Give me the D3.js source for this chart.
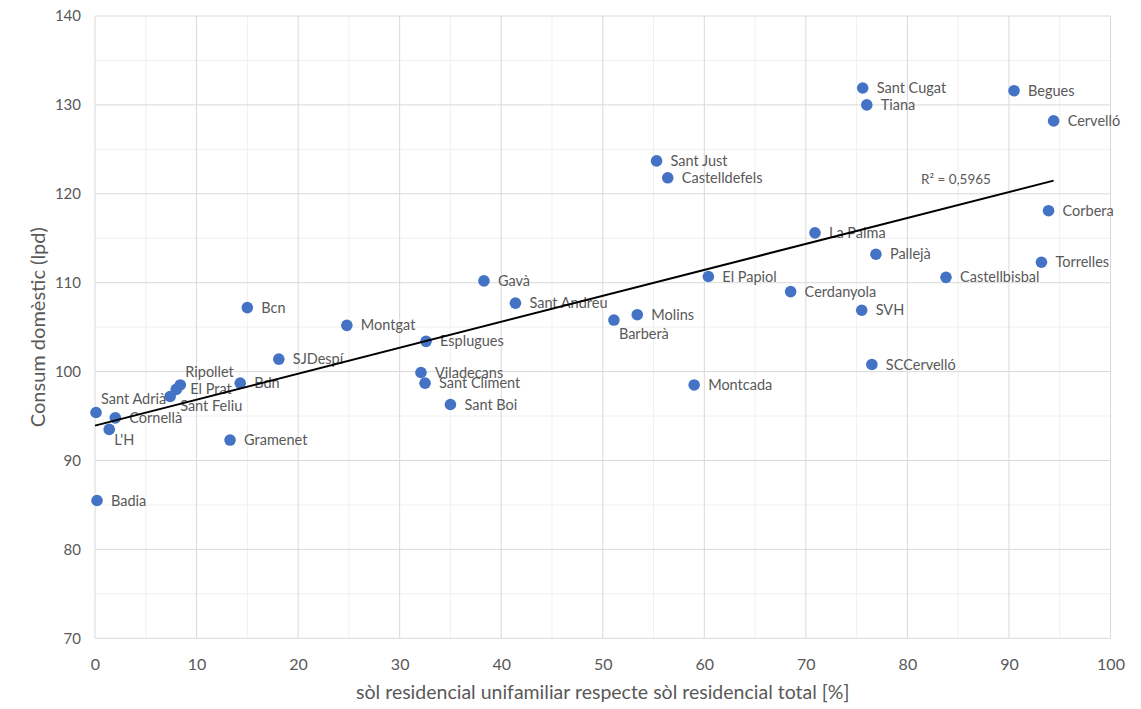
<!DOCTYPE html>
<html>
<head>
<meta charset="utf-8">
<script src="https://cdn.jsdelivr.net/npm/d3@7/dist/d3.min.js"></script>
<style>
  html, body { margin: 0; padding: 0; background: #fff; }
  svg { display: block; font-family: Lato, "Open Sans", sans-serif; }
</style>
</head>
<body>
<svg id="chart" width="1141" height="709"></svg>
<script>
// Municipalities: share of single-family residential land vs. domestic water use
const municipis = ["Sant Adrià", "Cornellà", "L'H", "Badia", "Sant Feliu", "El Prat", "Ripollet",
  "Bdn", "Gramenet", "SJDespí", "Bcn", "Montgat", "Esplugues", "Viladecans", "Sant Climent",
  "Sant Boi", "Gavà", "Sant Andreu", "Barberà", "Molins", "Montcada", "El Papiol", "Sant Just",
  "Castelldefels", "Cerdanyola", "La Palma", "SVH", "SCCervelló", "Pallejà", "Sant Cugat",
  "Tiana", "Begues", "Cervelló", "Corbera", "Torrelles", "Castellbisbal"];
const solUnifamiliar = [0.1, 2.0, 1.4, 0.2, 7.4, 8.0, 8.4,
  14.3, 13.3, 18.1, 15.0, 24.8, 32.6, 32.1, 32.5,
  35.0, 38.3, 41.4, 51.1, 53.4, 59.0, 60.4, 55.3,
  56.4, 68.5, 70.9, 75.5, 76.5, 76.9, 75.6,
  76.0, 90.5, 94.4, 93.9, 93.2, 83.8];
const consumDomestic = [95.4, 94.8, 93.5, 85.5, 97.2, 98.0, 98.5,
  98.7, 92.3, 101.4, 107.2, 105.2, 103.4, 99.9, 98.7,
  96.3, 110.2, 107.7, 105.8, 106.4, 98.5, 110.7, 123.7,
  121.8, 109.0, 115.6, 106.9, 100.8, 113.2, 131.9,
  130.0, 131.6, 128.2, 118.1, 112.3, 110.6];
const xTicks = [0, 10, 20, 30, 40, 50, 60, 70, 80, 90, 100];
const yTicks = [70, 80, 90, 100, 110, 120, 130, 140];
const r2Text = ["R² = 0,5965"];

// label nudges (px) for labels moved away from the default right-hand spot
const labelNudge = {
  "Sant Adrià": [5, -14],
  "L'H": [5, 11],
  "Ripollet": [5, -13],
  "Sant Feliu": [10, 9],
  "Barberà": [5, 14]
};

const svg = d3.select("#chart");
const margin = { left: 95, top: 16, right: 1141 - 1110.5, bottom: 709 - 638.3 };
const W = 1141, H = 709;

const x = d3.scaleLinear().domain([0, 100]).range([margin.left, W - margin.right]);
const y = d3.scaleLinear().domain([70, 140]).range([H - margin.bottom, margin.top]);

svg.append("rect").attr("width", W).attr("height", H).attr("fill", "#fff");

// minor grid every 5
const minorX = d3.range(5, 100, 10), minorY = d3.range(75, 140, 10);
const grid = svg.append("g");
grid.selectAll(".mx").data(minorX).join("line")
  .attr("x1", d => x(d)).attr("x2", d => x(d))
  .attr("y1", y(70)).attr("y2", y(140))
  .attr("stroke", "#f0f0f0").attr("stroke-width", 1);
grid.selectAll(".my").data(minorY).join("line")
  .attr("y1", d => y(d)).attr("y2", d => y(d))
  .attr("x1", x(0)).attr("x2", x(100))
  .attr("stroke", "#f0f0f0").attr("stroke-width", 1);
// major grid
grid.selectAll(".Mx").data(xTicks).join("line")
  .attr("x1", d => x(d)).attr("x2", d => x(d))
  .attr("y1", y(70)).attr("y2", y(140))
  .attr("stroke", "#d9d9d9").attr("stroke-width", 1);
grid.selectAll(".My").data(yTicks).join("line")
  .attr("y1", d => y(d)).attr("y2", d => y(d))
  .attr("x1", x(0)).attr("x2", x(100))
  .attr("stroke", "#d9d9d9").attr("stroke-width", 1);

// axes (labels only)
const xAxis = svg.append("g").attr("transform", `translate(0,${y(70)})`)
  .call(d3.axisBottom(x).tickValues(xTicks).tickSize(0).tickPadding(20).tickFormat(d3.format("d")));
xAxis.select(".domain").remove();
xAxis.selectAll("text").attr("fill", "#595959").attr("font-size", 16).attr("font-family", "Lato");

const yAxis = svg.append("g").attr("transform", `translate(${x(0)},0)`)
  .call(d3.axisLeft(y).tickValues(yTicks).tickSize(0).tickPadding(14).tickFormat(d3.format("d")));
yAxis.select(".domain").remove();
yAxis.selectAll("text").attr("fill", "#595959").attr("font-size", 15).attr("font-family", "Lato");

// axis titles
svg.append("text")
  .attr("x", (x(0) + x(100)) / 2).attr("y", 699)
  .attr("text-anchor", "middle").attr("fill", "#595959").attr("font-size", 19.5)
  .text("sòl residencial unifamiliar respecte sòl residencial total [%]");
svg.append("text")
  .attr("transform", `translate(45,${(y(70) + y(140)) / 2}) rotate(-90)`)
  .attr("text-anchor", "middle").attr("fill", "#595959").attr("font-size", 20)
  .text("Consum domèstic (lpd)");

const pts = municipis.map((m, i) => ({ name: m, vx: solUnifamiliar[i], vy: consumDomestic[i] }));

// points
svg.append("g").selectAll("circle").data(pts).join("circle")
  .attr("cx", d => x(d.vx)).attr("cy", d => y(d.vy)).attr("r", 5.8)
  .attr("fill", "#4472C4");

// data labels
svg.append("g").selectAll("text").data(pts).join("text")
  .attr("x", d => x(d.vx) + (labelNudge[d.name] ? labelNudge[d.name][0] : 14))
  .attr("y", d => y(d.vy) + (labelNudge[d.name] ? labelNudge[d.name][1] : 0))
  .attr("dy", "0.35em")
  .attr("fill", "#595959").attr("font-size", 14.5)
  .text(d => d.name);

// linear trend (least squares)
const mx = d3.mean(solUnifamiliar), my = d3.mean(consumDomestic);
let sxy = 0, sxx = 0;
solUnifamiliar.forEach((v, i) => { sxy += (v - mx) * (consumDomestic[i] - my); sxx += (v - mx) * (v - mx); });
const slope = sxy / sxx, intercept = my - slope * mx;
const xEnd = d3.max(solUnifamiliar);
svg.append("line")
  .attr("x1", x(0)).attr("y1", y(intercept))
  .attr("x2", x(xEnd)).attr("y2", y(intercept + slope * xEnd))
  .attr("stroke", "#000").attr("stroke-width", 2);

svg.append("text")
  .attr("x", 921).attr("y", 179).attr("dy", "0.35em")
  .attr("fill", "#595959").attr("font-size", 13.5)
  .text(r2Text[0]);
</script>
</body>
</html>
